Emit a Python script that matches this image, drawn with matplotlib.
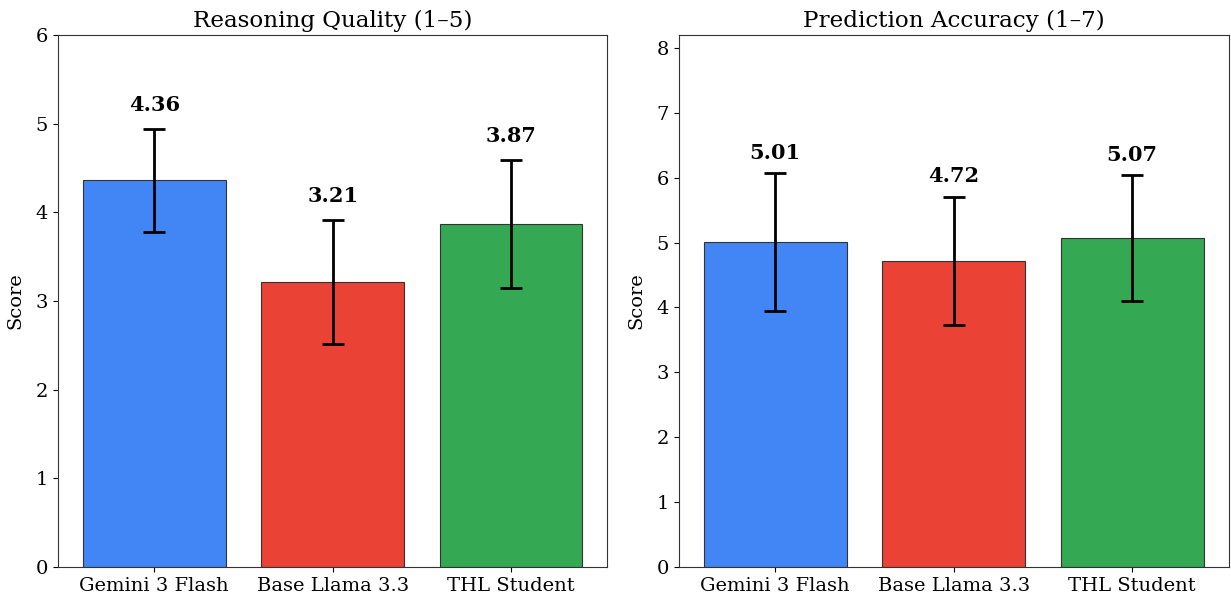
import numpy as np
import matplotlib
matplotlib.use("Agg")
from matplotlib import pyplot as plt

plt.rcParams["font.family"] = "DejaVu Serif"

models = ["Gemini 3 Flash", "Base Llama 3.3", "THL Student"]
colors = ["#4285F4", "#EA4335", "#34A853"]

reasoning_mean = [4.36, 3.21, 3.87]
reasoning_err = [0.58, 0.70, 0.72]

accuracy_mean = [5.01, 4.72, 5.07]
accuracy_err = [1.06, 0.99, 0.97]

panels = [
    ("Reasoning Quality (1–5)", reasoning_mean, reasoning_err, 6.0),
    ("Prediction Accuracy (1–7)", accuracy_mean, accuracy_err, 8.2),
]

fig, axes = plt.subplots(1, 2, figsize=(12.31, 5.96), dpi=100)
fig.subplots_adjust(left=0.047, right=0.998, top=0.941, bottom=0.049, wspace=0.13)

for ax, (title, means, errs, ymax) in zip(axes, panels):
    x = np.arange(len(models))
    ax.bar(x, means, width=0.8, color=colors, edgecolor="#333333", linewidth=0.8,
           yerr=errs, capsize=8, error_kw={"elinewidth": 2, "capthick": 2, "ecolor": "black"})
    for xi, m, e in zip(x, means, errs):
        ax.text(xi, m + e + 0.16, f"{m:.2f}", ha="center", va="bottom",
                fontsize=15, fontweight="bold")
    ax.set_ylim(0, ymax)
    ax.set_xticks(x)
    ax.set_xticklabels(models, fontsize=14)
    ax.tick_params(axis="y", labelsize=14)
    ax.set_ylabel("Score", fontsize=14, labelpad=8)
    ax.set_title(title, fontsize=16.6)
    for spine in ax.spines.values():
        spine.set_edgecolor("#333333")

fig.savefig("out.png", dpi=100)
